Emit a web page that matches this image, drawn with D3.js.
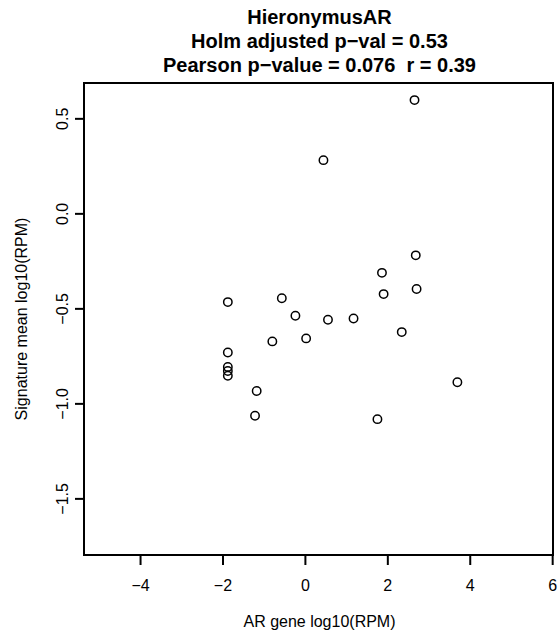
<!DOCTYPE html>
<html>
<head>
<meta charset="utf-8">
<script src="https://cdn.jsdelivr.net/npm/d3@7"></script>
<style>
  body { margin: 0; background: #fff; }
  svg text { font-family: "Liberation Sans", Arial, Helvetica, sans-serif; fill: #000; white-space: pre; }
</style>
</head>
<body>
<svg width="558" height="634"></svg>
<script>
// values
var arGene = [2.66, 0.45, 2.69, 1.87, 1.91, 2.71, -1.87, -0.56, -0.23, 0.56, 1.18, 2.35,
              -0.79, 0.03, -1.87, -1.87, -1.87, -1.87, 3.70, -1.17, -1.21, 1.76];
var sigMean = [0.596, 0.28, -0.221, -0.313, -0.425, -0.398, -0.467, -0.447, -0.539, -0.56, -0.553, -0.625,
               -0.674, -0.658, -0.732, -0.808, -0.83, -0.855, -0.889, -0.935, -1.065, -1.083];
var xTicks = [-4, -2, 0, 2, 4, 6],
    yTicks = [0.5, 0.0, -0.5, -1.0, -1.5];
var titleLines = ["HieronymusAR", "Holm adjusted p\u2212val = 0.53", "Pearson p\u2212value = 0.076  r = 0.39"];

var svg = d3.select("svg"),
    width = +svg.attr("width"),
    height = +svg.attr("height");

var box = {left: 84, right: 553, top: 83, bottom: 555};

var x = d3.scaleLinear().domain([-5.36, 6.02]).range([box.left, box.right]);
var y = d3.scaleLinear().domain([-1.798, 0.686]).range([box.bottom, box.top]);

var data = arGene.map(function (d, i) { return {x: d, y: sigMean[i]}; });

function minus(s, d) { return d < 0 ? "\u2212" + s : s; }

// frame
svg.append("rect")
    .attr("x", box.left).attr("y", box.top)
    .attr("width", box.right - box.left).attr("height", box.bottom - box.top)
    .attr("fill", "none").attr("stroke", "#000").attr("stroke-width", 2);

// x axis
var xAxis = svg.append("g")
    .attr("transform", "translate(0," + box.bottom + ")")
    .call(d3.axisBottom(x).tickValues(xTicks).tickSize(10)
        .tickFormat(function (d) { return minus(String(Math.abs(d)), d); }));
xAxis.select(".domain").remove();
xAxis.selectAll("line").attr("stroke-width", 2);
xAxis.selectAll("text")
    .attr("font-size", 16)
    .attr("font-family", "Liberation Sans, Arial, sans-serif")
    .attr("y", 36).attr("dy", null);

// y axis, labels rotated like R's default
var yAxis = svg.append("g")
    .attr("transform", "translate(" + box.left + ",0)")
    .call(d3.axisLeft(y).tickValues(yTicks).tickSize(9)
        .tickFormat(function (d) { return minus(d3.format(".1f")(Math.abs(d)), d); }));
yAxis.select(".domain").remove();
yAxis.selectAll("line").attr("stroke-width", 2);
yAxis.selectAll("text")
    .attr("font-size", 16)
    .attr("font-family", "Liberation Sans, Arial, sans-serif")
    .attr("x", null).attr("dy", null)
    .attr("text-anchor", "middle")
    .attr("transform", "translate(-16,0) rotate(-90)");

// points
svg.append("g").selectAll("circle")
    .data(data)
    .enter()
    .append("circle")
    .attr("cx", function (d) { return x(d.x); })
    .attr("cy", function (d) { return y(d.y); })
    .attr("r", 4.2)
    .attr("fill", "none")
    .attr("stroke", "#000")
    .attr("stroke-width", 1.5);

// titles
var cx = (box.left + box.right) / 2 + 1;
svg.append("g").selectAll("text")
    .data(titleLines)
    .enter()
    .append("text")
    .attr("x", cx)
    .attr("y", function (d, i) { return 24 + i * 24; })
    .attr("text-anchor", "middle")
    .attr("font-weight", "bold")
    .attr("font-size", 20)
    .text(function (d) { return d; });

svg.append("text")
    .attr("x", cx).attr("y", 627)
    .attr("text-anchor", "middle")
    .attr("font-size", 16)
    .text("AR gene log10(RPM)");

svg.append("text")
    .attr("transform", "translate(27," + ((box.top + box.bottom) / 2) + ") rotate(-90)")
    .attr("text-anchor", "middle")
    .attr("font-size", 16)
    .text("Signature mean log10(RPM)");
</script>
</body>
</html>
